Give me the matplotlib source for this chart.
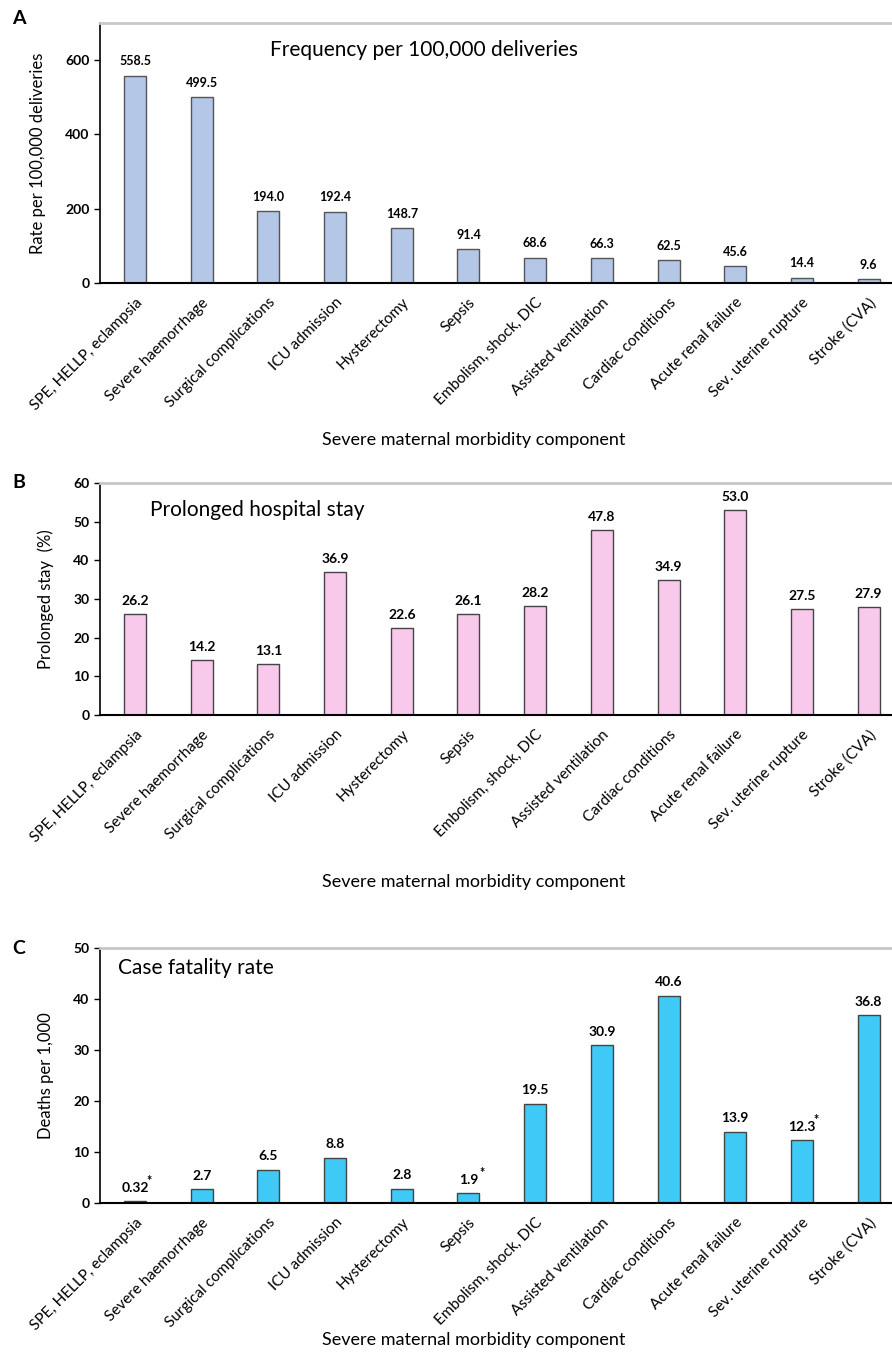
import numpy as np
import matplotlib
matplotlib.use("Agg")
import matplotlib.pyplot as plt

plt.rcParams['font.family'] = ['Lato', 'DejaVu Sans']

components = ['SPE, HELLP, eclampsia', 'Severe haemorrhage', 'Surgical complications',
              'ICU admission', 'Hysterectomy', 'Sepsis', 'Embolism, shock, DIC',
              'Assisted ventilation', 'Cardiac conditions', 'Acute renal failure',
              'Sev. uterine rupture', 'Stroke (CVA)']

freq = [558.5, 499.5, 194.0, 192.4, 148.7, 91.4, 68.6, 66.3, 62.5, 45.6, 14.4, 9.6]
prolonged = [26.2, 14.2, 13.1, 36.9, 22.6, 26.1, 28.2, 47.8, 34.9, 53.0, 27.5, 27.9]
cfr = [0.32, 2.7, 6.5, 8.8, 2.8, 1.9, 19.5, 30.9, 40.6, 13.9, 12.3, 36.8]
cfr_star = [True, False, False, False, False, True, False, False, False, False, True, False]

fig = plt.figure(figsize=(8.92, 13.61), dpi=100)
W, H = 892, 1361


def make_axes(top, bottom):
    left, right = 100, 903
    return fig.add_axes([left / W, 1 - bottom / H, (right - left) / W, (bottom - top) / H])


def style(ax, ymax, yticks, ylabel, title, tx, ty, letter, ly, xl_y):
    x = np.arange(len(components))
    ax.set_xlim(-0.525, 11.515)
    ax.set_ylim(0, ymax)
    ax.set_yticks(yticks)
    ax.set_yticklabels([str(t) for t in yticks], fontsize=10, fontweight='bold')
    ax.set_xticks(x)
    ax.set_xticklabels(components, rotation=45, ha='right', rotation_mode='anchor',
                       fontsize=11)
    ax.tick_params(axis='x', length=0, pad=9)
    ax.tick_params(axis='y', length=4, width=1, direction='out')
    ax.spines['top'].set_color('#c8c8c8')
    ax.spines['top'].set_linewidth(2)
    ax.spines['right'].set_visible(False)
    ax.spines['left'].set_linewidth(1.2)
    ax.spines['bottom'].set_linewidth(1.5)
    ax.set_ylabel(ylabel, fontsize=12, labelpad=14)
    ax.set_xlabel('Severe maternal morbidity component', fontsize=13, va='center')
    ax.xaxis.set_label_coords((474 - 100) / 803, xl_y)
    ax.text(tx, ty, title, transform=ax.transAxes, fontsize=15, va='center', ha='left')
    fig.text(12 / W, 1 - ly / H, letter, fontsize=14, fontweight='bold', va='center')


x = np.arange(len(components))

# A
axA = make_axes(23, 283)
axA.bar(x, freq, width=0.33, color='#b4c7e7', edgecolor='#555555', linewidth=1)
for xi, v in zip(x, freq):
    axA.text(xi, v + 22, f'{v:.1f}', ha='center', va='bottom', fontsize=9, fontweight='bold')
style(axA, 700, [0, 200, 400, 600], 'Rate per 100,000 deliveries',
      'Frequency per 100,000 deliveries', 0.212, 0.896, 'A', 18, (283 - 440) / 260)

# B
axB = make_axes(483, 715)
axB.bar(x, prolonged, width=0.33, color='#f9c9ec', edgecolor='#444444', linewidth=1)
for xi, v in zip(x, prolonged):
    axB.text(xi, v + 1.8, f'{v:.1f}', ha='center', va='bottom', fontsize=10, fontweight='bold')
style(axB, 60, [0, 10, 20, 30, 40, 50, 60], 'Prolonged stay  (%)',
      'Prolonged hospital stay', 0.062, 0.884, 'B', 483, (715 - 882) / 232)

# C
axC = make_axes(948, 1203)
axC.bar(x, cfr, width=0.33, color='#3ec9f7', edgecolor='#444444', linewidth=1)
for xi, v, s in zip(x, cfr, cfr_star):
    axC.text(xi, v + 1.5, f'{v:g}', ha='center', va='bottom', fontsize=10, fontweight='bold')
    if s:
        axC.annotate('*', (xi, v + 1.5), xytext=(10, 5), textcoords='offset points',
                     ha='center', va='bottom', fontsize=9, fontweight='bold')
style(axC, 50, [0, 10, 20, 30, 40, 50], 'Deaths per 1,000',
      'Case fatality rate', 0.022, 0.92, 'C', 948, (1203 - 1340) / 255)

fig.savefig('out.png', dpi=100)
